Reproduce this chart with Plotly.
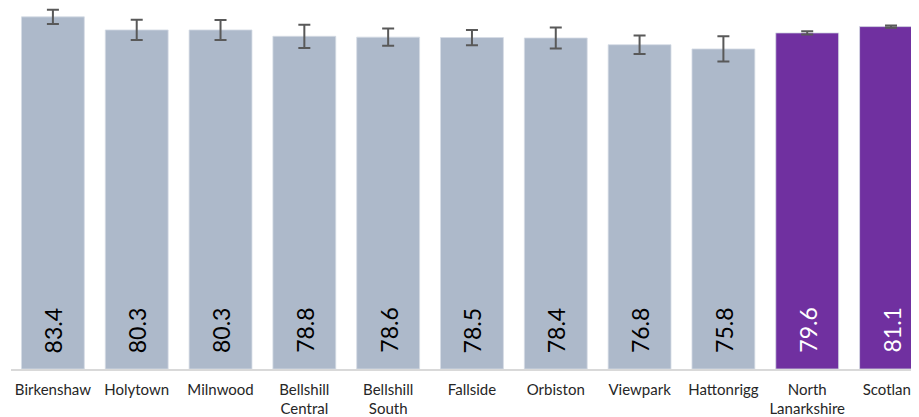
import plotly.graph_objects as go

categories = ["Birkenshaw", "Holytown", "Milnwood", "Bellshill<br>Central", "Bellshill<br>South",
              "Fallside", "Orbiston", "Viewpark", "Hattonrigg", "North<br>Lanarkshire", "Scotland"]
values = [83.4, 80.3, 80.3, 78.8, 78.6, 78.5, 78.4, 76.8, 75.8, 79.6, 81.1]
errors = [1.7, 2.4, 2.35, 2.75, 2.05, 1.8, 2.5, 2.2, 3.0, 0.4, 0.25]
bar_colors = ["#ADB9CA"] * 9 + ["#7030A0"] * 2
text_colors = ["#000000"] * 9 + ["#FFFFFF"] * 2

FONT = "Lato, Carlito, Calibri, sans-serif"

fig = go.Figure(go.Bar(
    x=categories, y=values,
    marker=dict(color=bar_colors, line=dict(color="#D6DCE5", width=0.8)),
    error_y=dict(type="data", array=errors, visible=True, color="#595959", thickness=2, width=6),
    cliponaxis=True,
))

for c, v, tc in zip(categories, values, text_colors):
    fig.add_annotation(x=c, y=0, xref="x", yref="y", text=f"{v:.1f}", textangle=-90,
                       showarrow=False, yanchor="bottom", xanchor="center", yshift=14,
                       font=dict(family=FONT, size=23, color=tc))

fig.update_layout(
    width=911, height=409,
    margin=dict(l=3, r=0, t=0, b=47),
    paper_bgcolor="white", plot_bgcolor="white",
    bargap=0.25, showlegend=False,
    font=dict(family=FONT, size=15, color="#262626"),
)
fig.update_xaxes(range=[-0.5, 10.31], showline=True, linecolor="#D9D9D9", linewidth=1.5,
                 ticks="", showgrid=False, tickfont=dict(size=15, color="#262626"),
                 ticklabelstandoff=6)
fig.update_yaxes(range=[0, 85.5], visible=False, showgrid=False)

fig.write_html("out.html")
